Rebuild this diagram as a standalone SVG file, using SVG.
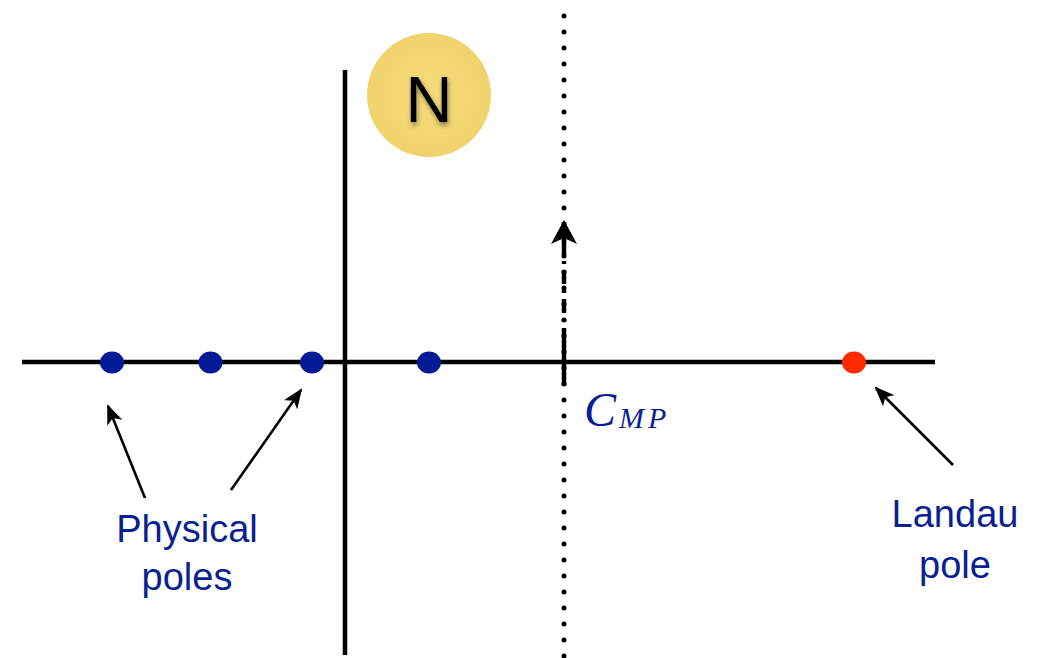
<svg xmlns="http://www.w3.org/2000/svg" width="1041" height="658" viewBox="0 0 1041 658">
  <style>
    .axis { stroke: #000; stroke-width: 4.5; fill: none; }
    .ptr { stroke: #000; stroke-width: 2.6; fill: none; marker-end: url(#ah); }
    .lbl { font-family: "Liberation Sans", Arial, sans-serif; font-size: 38px; fill: #0a1f92; text-anchor: middle; }
    .bdot { fill: #021a94; }
  </style>
  <defs>
    <marker id="ah" viewBox="0 0 20 16" refX="18" refY="8" markerWidth="20" markerHeight="16" markerUnits="userSpaceOnUse" orient="auto">
      <path d="M0,0 L20,8 L0,16 L5,8 Z" fill="#000"/>
    </marker>
    <marker id="ah2" viewBox="0 0 24 26" refX="22" refY="13" markerWidth="24" markerHeight="26" markerUnits="userSpaceOnUse" orient="auto">
      <path d="M0,0 L24,13 L0,26 L6,13 Z" fill="#000"/>
    </marker>
    <radialGradient id="ng" cx="50%" cy="50%" r="50%">
      <stop offset="0%" stop-color="#f6dc7c"/>
      <stop offset="100%" stop-color="#f0d36c"/>
    </radialGradient>
    <filter id="sh" x="-30%" y="-30%" width="160%" height="160%">
      <feGaussianBlur in="SourceAlpha" stdDeviation="2.5"/>
      <feOffset dx="1" dy="3" result="b"/>
      <feFlood flood-color="#000" flood-opacity="0.45"/>
      <feComposite in2="b" operator="in"/>
      <feMerge><feMergeNode/><feMergeNode in="SourceGraphic"/></feMerge>
    </filter>
  </defs>

  <g id="connectors">
    <line id="real-axis" class="axis" x1="22" y1="362" x2="935" y2="362"/>
    <line id="imag-axis" class="axis" x1="345" y1="70" x2="345" y2="655"/>
    <line id="contour-dots" x1="564" y1="16" x2="564" y2="658" stroke="#000" stroke-width="5" stroke-linecap="round" stroke-dasharray="0 16"/>
    <line id="contour-tick" x1="564" y1="342" x2="564" y2="386" stroke="#000" stroke-width="4.5"/>
    <line id="contour-arrow" x1="564" y1="342" x2="564" y2="222" stroke="#000" stroke-width="4.5" stroke-dasharray="14 6 3 6" marker-end="url(#ah2)"/>
    <line class="ptr" x1="145" y1="498" x2="108" y2="406"/>
    <line class="ptr" x1="231" y1="490" x2="301" y2="390"/>
    <line class="ptr" x1="953" y1="465" x2="876" y2="388"/>
  </g>

  <g id="pole1"><ellipse class="bdot" cx="112" cy="362.5" rx="12" ry="11"/></g>
  <g id="pole2"><ellipse class="bdot" cx="210.5" cy="362.5" rx="12" ry="11"/></g>
  <g id="pole3"><ellipse class="bdot" cx="312" cy="362.5" rx="12" ry="11"/></g>
  <g id="pole4"><ellipse class="bdot" cx="429" cy="362.5" rx="12" ry="11"/></g>
  <g id="landau-pole"><ellipse cx="854" cy="362.5" rx="12" ry="11" fill="#ff2a00"/></g>

  <g id="N-badge">
    <circle cx="429" cy="95" r="62" fill="url(#ng)"/>
    <text x="429" y="122" font-family="Liberation Sans, Arial, sans-serif" font-size="65" text-anchor="middle" fill="#000" filter="url(#sh)">N</text>
  </g>

  <g id="cmp-label">
    <text x="584" y="426" font-family="Liberation Serif, Times New Roman, serif" font-style="italic" font-size="48" fill="#0a1f92">C<tspan font-size="30" dx="3" dy="2" letter-spacing="4">MP</tspan></text>
  </g>

  <g id="physical-label">
    <text class="lbl" x="187" y="542">Physical</text>
    <text class="lbl" x="187" y="590">poles</text>
  </g>
  <g id="landau-label">
    <text class="lbl" x="955" y="527">Landau</text>
    <text class="lbl" x="955" y="578">pole</text>
  </g>
</svg>
